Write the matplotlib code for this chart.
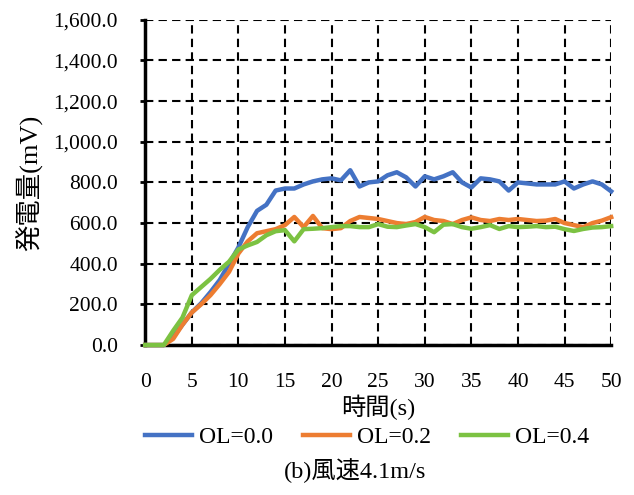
import numpy as np
import matplotlib
matplotlib.use('Agg')
import matplotlib.pyplot as plt

plt.rcParams['font.family'] = ['Liberation Serif', 'Noto Sans CJK JP']

# time in seconds
t = list(range(0, 51))

# generated voltage (mV)
ol_00 = [0, 0, 0, 40, 100, 160, 205, 260, 320, 400,
         480, 580, 660, 690, 760, 770, 770, 790, 805, 815,
         820, 810, 860, 780, 800, 805, 835, 850, 825, 780,
         830, 815, 830, 850, 800, 775, 820, 815, 805, 760,
         800, 795, 790, 790, 790, 805, 770, 790, 805, 790, 756]
ol_02 = [0, 0, 0, 30, 100, 160, 200, 245, 300, 360,
         450, 510, 550, 560, 570, 590, 630, 580, 635, 575,
         570, 575, 610, 630, 625, 620, 610, 600, 595, 605,
         630, 615, 610, 595, 615, 628, 615, 610, 620, 615,
         620, 615, 610, 612, 620, 600, 590, 580, 600, 612, 629]
ol_04 = [0, 0, 0, 70, 135, 245, 285, 325, 370, 410,
         470, 490, 507, 540, 560, 565, 510, 570, 572, 575,
         580, 585, 585, 580, 580, 595, 582, 580, 588, 595,
         580, 555, 592, 595, 580, 572, 580, 590, 571, 585,
         580, 582, 585, 580, 582, 570, 561, 571, 578, 580, 585]

series = [('OL=0.0', ol_00, '#4472C4'),
          ('OL=0.2', ol_02, '#ED7D31'),
          ('OL=0.4', ol_04, '#7CC242')]

fig = plt.figure(figsize=(6.34, 4.95), dpi=100)
ax = fig.add_axes([0.229, 0.303, 0.735, 0.657])

for label, vals, c in series:
    ax.plot(t, vals, color=c, lw=3.2, label=label, solid_joinstyle='round',
            clip_on=False, zorder=6)

ax.set_xlim(0, 50)
ax.set_ylim(0, 1600)
ax.set_xticks(range(0, 51, 5))
ax.set_yticks(range(0, 1601, 200))
ax.set_yticklabels([f'{v:,.1f}' for v in range(0, 1601, 200)])
ax.grid(True, color='black', lw=1.5, linestyle=(0, (4, 2.5)))
ax.set_axisbelow(True)

for s in ['top', 'right']:
    ax.spines[s].set_visible(False)
for s in ['left', 'bottom']:
    ax.spines[s].set_linewidth(2.5)
    ax.spines[s].set_zorder(5)

ax.tick_params(axis='y', direction='out', length=3.5, width=2, labelsize=15.5, pad=16)
ax.tick_params(axis='x', length=0, labelsize=15.5, pad=20)

ax.set_xlabel('時間(s)', fontsize=17.5, labelpad=2)
ax.set_ylabel('発電量(mV)', fontsize=19, labelpad=8)

ax.legend(loc='center', bbox_to_anchor=(0.579, 0.117), bbox_transform=fig.transFigure,
          ncol=3, frameon=False, fontsize=17, handlelength=2.0, handletextpad=0.3,
          columnspacing=1.25)

fig.text(0.56, 0.05, '(b)風速4.1m/s', ha='center', va='center', fontsize=17.5)

fig.savefig('out.png', dpi=100, facecolor='white')
